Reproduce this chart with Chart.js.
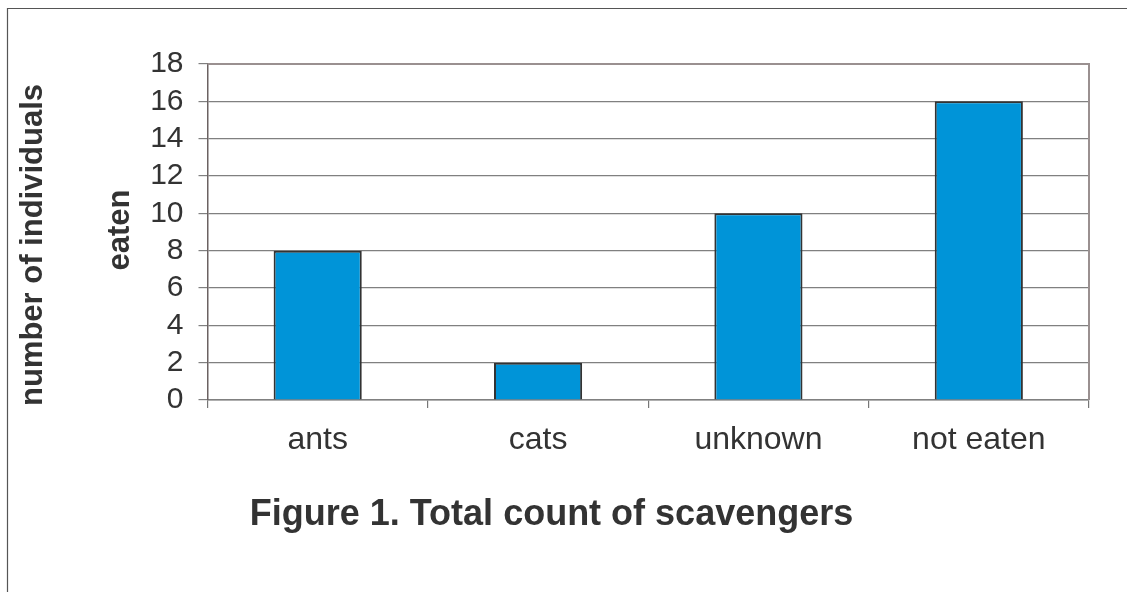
<!DOCTYPE html>
<html>
<head>
<meta charset="utf-8">
<script src="https://cdn.jsdelivr.net/npm/chart.js@4/dist/chart.umd.min.js"></script>
<style>
  html, body { margin: 0; padding: 0; background: #ffffff; }
  #wrap { width: 1127px; height: 592px; position: relative; }
</style>
</head>
<body>
<div id="wrap"><canvas id="c" width="1127" height="592"></canvas></div>
<script>
// data
const categories = ['ants', 'cats', 'unknown', 'not eaten'];
const counts = [8, 2, 10, 16];
const yTitleLines = ['number of individuals', 'eaten'];
const figureTitle = 'Figure 1. Total count of scavengers';

const FONT = "'Liberation Sans', Arial, sans-serif";
const TEXT = '#333333';

// outer frame (only left and top edges show in the picture) + plot border
const framePlugin = {
  id: 'frame',
  beforeDraw(chart) {
    const ctx = chart.ctx;
    ctx.save();
    ctx.fillStyle = '#ffffff';
    ctx.fillRect(0, 0, chart.width, chart.height);
    ctx.strokeStyle = '#555555';
    ctx.lineWidth = 1.2;
    ctx.beginPath();
    ctx.moveTo(7.5, chart.height);
    ctx.lineTo(7.5, 8.5);
    ctx.lineTo(chart.width, 8.5);
    ctx.stroke();
    ctx.restore();
  },
  beforeDatasetsDraw(chart) {
    const { ctx, chartArea: a } = chart;
    ctx.save();
    ctx.strokeStyle = '#9a9090';
    ctx.lineWidth = 2;
    ctx.beginPath();
    ctx.moveTo(a.left, a.top);
    ctx.lineTo(a.right, a.top);
    ctx.lineTo(a.right, a.bottom);
    ctx.stroke();
    ctx.restore();
  },
  afterDraw(chart) {
    // two-line y axis title, placed like the original
    const ctx = chart.ctx;
    const pos = [[42, 245], [129, 230]];
    ctx.save();
    ctx.fillStyle = TEXT;
    ctx.font = 'bold 31px ' + FONT;
    ctx.textAlign = 'center';
    ctx.textBaseline = 'alphabetic';
    yTitleLines.forEach((t, i) => {
      ctx.save();
      ctx.translate(pos[i][0], pos[i][1]);
      ctx.rotate(-Math.PI / 2);
      ctx.fillText(t, 0, 0);
      ctx.restore();
    });
    ctx.restore();
  }
};

new Chart(document.getElementById('c'), {
  type: 'bar',
  data: {
    labels: categories,
    datasets: [{
      data: counts,
      backgroundColor: '#0094d8',
      borderColor: '#333333',
      borderWidth: 2,
      categoryPercentage: 1,
      barPercentage: 0.4
    }]
  },
  options: {
    responsive: false,
    animation: false,
    layout: { padding: { left: 14, top: 64, right: 38, bottom: 55.4 } },
    plugins: {
      legend: { display: false },
      tooltip: { enabled: false },
      title: {
        display: true,
        position: 'bottom',
        text: figureTitle,
        color: TEXT,
        font: { family: FONT, size: 36, weight: 'bold', lineHeight: 1.2 },
        padding: { top: 0, bottom: 0 }
      }
    },
    scales: {
      x: {
        afterFit(s) { s.height = 93.4; },
        grid: {
          offset: true,
          drawOnChartArea: false,
          drawTicks: true,
          tickLength: 8,
          tickColor: '#777777',
          lineWidth: 1.2
        },
        border: { color: '#808080', width: 1.5 },
        ticks: {
          color: TEXT,
          padding: 13,
          font: { family: FONT, size: 32 }
        }
      },
      y: {
        min: 0,
        max: 18,
        afterFit(s) { s.width = 193.5; },
        grid: {
          color: '#808080',
          lineWidth: 1.2,
          tickLength: 9
        },
        border: { color: '#6b6262', width: 1.5 },
        ticks: {
          stepSize: 2,
          autoSkip: false,
          color: TEXT,
          padding: 15,
          font: { family: FONT, size: 30 }
        }
      }
    }
  },
  plugins: [framePlugin]
});
</script>
</body>
</html>
